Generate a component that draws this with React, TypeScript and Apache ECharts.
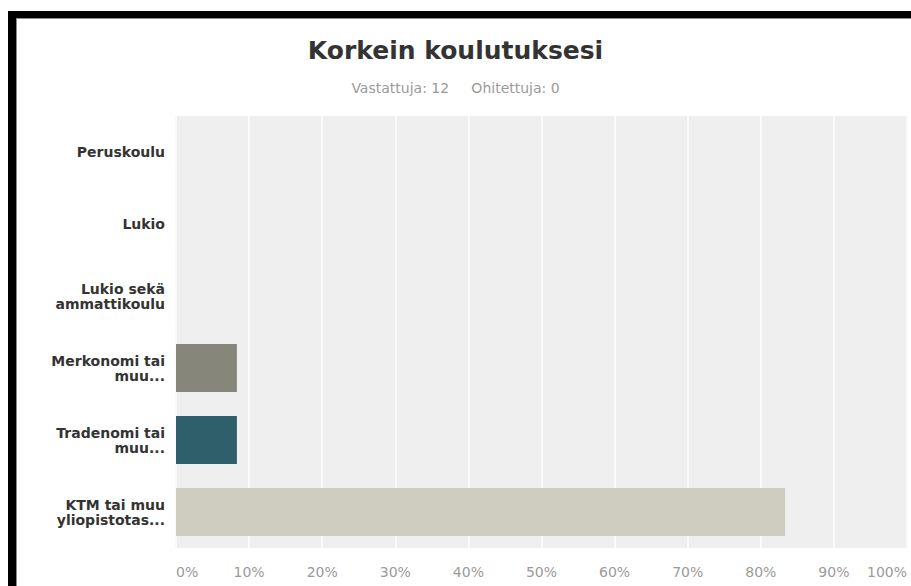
import React, { useEffect, useRef } from "react";
import * as echarts from "echarts";

const categories = [
  "Peruskoulu",
  "Lukio",
  "Lukio sekä\nammattikoulu",
  "Merkonomi tai\nmuu...",
  "Tradenomi tai\nmuu...",
  "KTM tai muu\nyliopistotas...",
];
const percentages = [0, 0, 0, 8.33, 8.33, 83.33];
const barColors = ["#86867a", "#86867a", "#86867a", "#86867a", "#2e5f6b", "#cfcdbf"];
const titleText = "Korkein koulutuksesi";
const subtitleText = "Vastattuja: 12     Ohitettuja: 0";

export default function App() {
  const ref = useRef<HTMLDivElement>(null);
  useEffect(() => {
    if (!ref.current) return;
    const chart = echarts.init(ref.current, null, { renderer: "svg" });
    chart.setOption({
      animation: false,
      backgroundColor: "#ffffff",
      title: [
        {
          text: titleText,
          left: "center",
          top: 33,
          textStyle: {
            fontFamily: "DejaVu Sans",
            fontWeight: "bold",
            fontSize: 25,
            color: "#333333",
          },
        },
        {
          text: subtitleText,
          left: "center",
          top: 76,
          textStyle: {
            fontFamily: "DejaVu Sans",
            fontWeight: "normal",
            fontSize: 14,
            color: "#9a9a9a",
          },
        },
      ],
      grid: {
        left: 176,
        right: 4,
        top: 116,
        bottom: 38,
        show: true,
        backgroundColor: "#efefef",
        borderWidth: 0,
      },
      xAxis: {
        type: "value",
        min: 0,
        max: 100,
        interval: 10,
        axisLine: { show: false },
        axisTick: { show: false },
        splitLine: { show: true, lineStyle: { color: "#fafafa", width: 2 } },
        axisLabel: {
          formatter: "{value}%",
          fontFamily: "DejaVu Sans",
          fontSize: 14,
          color: "#9a9a9a",
          margin: 17,
          alignMinLabel: "left",
          alignMaxLabel: "right",
        },
      },
      yAxis: {
        type: "category",
        inverse: true,
        data: categories,
        axisLine: { show: false },
        axisTick: { show: false },
        splitLine: { show: false },
        axisLabel: {
          fontFamily: "DejaVu Sans",
          fontWeight: "bold",
          fontSize: 14,
          lineHeight: 15,
          color: "#333333",
          margin: 11,
        },
      },
      series: [
        {
          type: "bar",
          barWidth: 48,
          data: percentages.map((v, i) => ({
            value: v,
            itemStyle: { color: barColors[i] },
          })),
        },
      ],
      graphic: [
        { type: "rect", shape: { x: 8, y: 11, width: 903, height: 7 }, style: { fill: "#000000" } },
        { type: "rect", shape: { x: 16, y: 18, width: 895, height: 1 }, style: { fill: "#8a8a8a" } },
        { type: "rect", shape: { x: 8, y: 11, width: 8, height: 575 }, style: { fill: "#000000" } },
        { type: "rect", shape: { x: 16, y: 19, width: 1, height: 567 }, style: { fill: "#8a8a8a" } },
      ],
    });
    return () => chart.dispose();
  }, []);
  return (
    <div
      ref={ref}
      style={{ position: "fixed", left: 0, top: 0, width: 911, height: 586 }}
    />
  );
}
